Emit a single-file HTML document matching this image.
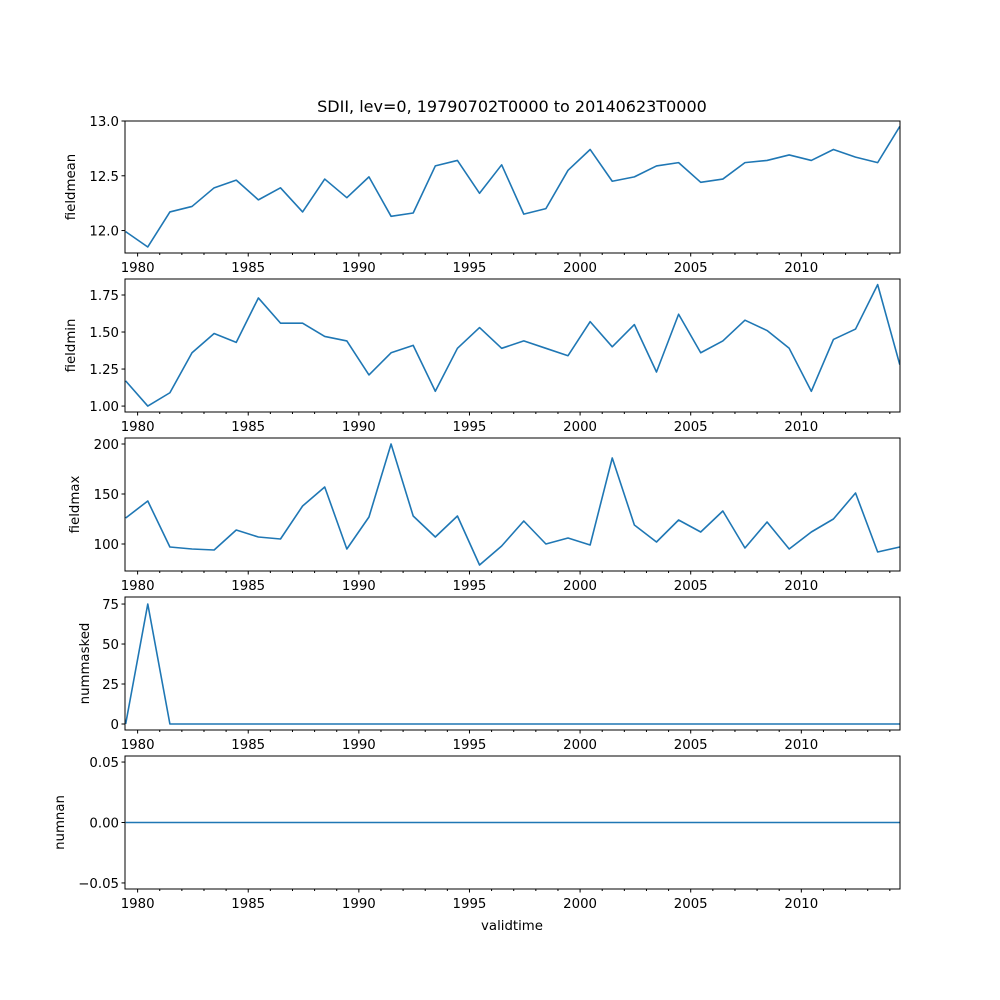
<!DOCTYPE html>
<html><head><meta charset="utf-8"><style>
body{margin:0;background:#fff}
svg{display:block;font-family:"DejaVu Sans","Liberation Sans",sans-serif}
</style></head><body>
<svg id="fig" width="1000" height="1000" viewBox="0 0 1000 1000">
<text x="512" y="112" text-anchor="middle" font-size="16">SDII, lev=0, 19790702T0000 to 20140623T0000</text>
<text x="512" y="930" text-anchor="middle" font-size="13.3">validtime</text>
</svg>
<script>
const years = [1979,1980,1981,1982,1983,1984,1985,1986,1987,1988,1989,1990,1991,1992,1993,1994,1995,1996,1997,1998,1999,2000,2001,2002,2003,2004,2005,2006,2007,2008,2009,2010,2011,2012,2013,2014];
const fieldmean = [11.99,11.85,12.17,12.22,12.39,12.46,12.28,12.39,12.17,12.47,12.30,12.49,12.13,12.16,12.59,12.64,12.34,12.60,12.15,12.20,12.55,12.74,12.45,12.49,12.59,12.62,12.44,12.47,12.62,12.64,12.69,12.64,12.74,12.67,12.62,12.95];
const fieldmin = [1.17,1.00,1.09,1.36,1.49,1.43,1.73,1.56,1.56,1.47,1.44,1.21,1.36,1.41,1.10,1.39,1.53,1.39,1.44,1.39,1.34,1.57,1.40,1.55,1.23,1.62,1.36,1.44,1.58,1.51,1.39,1.10,1.45,1.52,1.82,1.28];
const fieldmax = [126,143,97,95,94,114,107,105,138,157,95,127,200,128,107,128,79,98,123,100,106,99,186,119,102,124,112,133,96,122,95,112,125,151,92,97];
const nummasked = [0,75,0,0,0,0,0,0,0,0,0,0,0,0,0,0,0,0,0,0,0,0,0,0,0,0,0,0,0,0,0,0,0,0,0,0];
const numnan = [0,0,0,0,0,0,0,0,0,0,0,0,0,0,0,0,0,0,0,0,0,0,0,0,0,0,0,0,0,0,0,0,0,0,0,0];
const xTickYears = [1980,1985,1990,1995,2000,2005,2010];
const ticks1 = [12.0,12.5,13.0];
const ticks2 = [1.00,1.25,1.50,1.75];
const ticks3 = [100,150,200];
const ticks4 = [0,25,50,75];
const ticks5 = [-0.05,0.00,0.05];

const NS="http://www.w3.org/2000/svg";
const svg=document.getElementById('fig');
const X0=125,X1=900,XMIN=1979.43,XMAX=2014.46;
function xs(t){return X0+(t-XMIN)/(XMAX-XMIN)*(X1-X0);}
function mk(tag,attrs,parent){const e=document.createElementNS(NS,tag);for(const k in attrs)e.setAttribute(k,attrs[k]);(parent||svg).appendChild(e);return e;}

function panel(name,top,bottom,ymin,ymax,vals,ticks,fmt,label){
  const g=mk('g',{});
  
  
  const ys=v=>bottom-(v-ymin)/(ymax-ymin)*(bottom-top);
  let d='';
  vals.forEach((v,i)=>{const t=XMIN+0.03+i*((XMAX-0.01-XMIN-0.03)/(vals.length-1));d+=(i?'L':'M')+xs(t).toFixed(2)+' '+ys(v).toFixed(2);});
  const ln=mk('path',{d:d,fill:'none',stroke:'#1f77b4','stroke-width':1.6,'stroke-linejoin':'round'},g);
  
  
  const fr=mk('rect',{x:X0,y:top,width:X1-X0,height:bottom-top,fill:'none',stroke:'#000','stroke-width':1},g);
  
  
  ticks.forEach(v=>{const y=ys(v);
    mk('line',{x1:X0-3.5,x2:X0,y1:y,y2:y,stroke:'#000'},g);
    const tx=mk('text',{x:X0-6,y:y+5,'text-anchor':'end','font-size':13.3},g);
    tx.textContent=fmt(v);
    
    
  });
  for(let yr=1980;yr<=2014;yr++){const x=xs(yr);const major=yr%5===0;
    mk('line',{x1:x,x2:x,y1:bottom,y2:bottom+(major?3.5:2),stroke:'#000'},g);}
  xTickYears.forEach(yr=>{const tx=mk('text',{x:xs(yr),y:bottom+19,'text-anchor':'middle','font-size':13.3},g);
    tx.textContent=yr;
    
    });
  const cy=(top+bottom)/2;
  const yl=mk('text',{x:0,y:0,'text-anchor':'middle','font-size':13.3,transform:`translate(${label.x},${cy}) rotate(-90)`},g);
  yl.textContent=label.t;
  
  
}
panel('fieldmean',121,253,11.795,13.0,fieldmean,ticks1,v=>v.toFixed(1),{x:75,t:'fieldmean'});
panel('fieldmin',279,412,0.96,1.858,fieldmin,ticks2,v=>v.toFixed(2),{x:75,t:'fieldmin'});
panel('fieldmax',438,571,73,206,fieldmax,ticks3,v=>String(v),{x:79,t:'fieldmax'});
panel('nummasked',597,730,-3.75,79.4,nummasked,ticks4,v=>String(v),{x:89,t:'nummasked'});
panel('numnan',756,889,-0.055,0.055,numnan,ticks5,v=>v.toFixed(2).replace('-','\u2212'),{x:64,t:'numnan'});
</script>
</body></html>
